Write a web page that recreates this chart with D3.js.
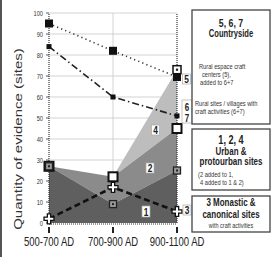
<!DOCTYPE html>
<html>
<head>
<meta charset="utf-8">
<script src="https://cdn.jsdelivr.net/npm/d3@7"></script>
<style>
  body { margin: 0; background: #fff; }
  svg { display: block; font-family: "Liberation Sans", Arial, sans-serif; }
</style>
</head>
<body>
<svg width="275" height="257"></svg>
<script>
var periods = ["500-700 AD", "700-900 AD", "900-1100 AD"];
var yTicks = [0, 10, 20, 30, 40, 50, 60, 70, 80, 90, 100];

// stacked urban areas (1, 1+2, 1+2+4)
var urban1 = [27, 9, 25];
var urban12 = [27, 22, 45];
var urban124 = [27, 22, 73];
// monastic sites (3)
var monastic3 = [2, 17, 5.5];
// countryside
var rural5 = [95, 82, 69.5];
var rural67 = [84, 60, 51];

var SX = 0.76; // the figure is squeezed sideways

var svg = d3.select("svg");

var x = d3.scalePoint().domain(periods).range([49, 177]);
var y = d3.scaleLinear().domain([0, 100]).range([223, 13]);

function txt(g, px, py, s, size, weight, anchor, fill) {
    return g.append("text")
        .attr("transform", "translate(" + px + "," + py + ") scale(" + SX + ",1)")
        .attr("text-anchor", anchor || "start")
        .style("font-size", size + "px")
        .style("font-weight", weight || "normal")
        .style("fill", fill || "#222")
        .text(s);
}

// left border
svg.append("rect").attr("x", 0).attr("y", 0).attr("width", 2).attr("height", 257).attr("fill", "#555");

// grid
svg.append("g").selectAll("line")
    .data(yTicks.slice(1))
    .enter().append("line")
    .attr("x1", x(periods[0])).attr("x2", x(periods[2]))
    .attr("y1", function(d) { return y(d); })
    .attr("y2", function(d) { return y(d); })
    .attr("stroke", "#c8c8c8").attr("stroke-width", 0.8);

svg.append("line")
    .attr("x1", x(periods[1])).attr("x2", x(periods[1]))
    .attr("y1", y(0)).attr("y2", y(100))
    .attr("stroke", "#c8c8c8").attr("stroke-width", 0.8);

// areas
function band(lo, hi) {
    return d3.area()
        .x(function(d, i) { return x(periods[i]); })
        .y0(function(d, i) { return y(lo ? lo[i] : 0); })
        .y1(function(d, i) { return y(hi[i]); })(hi);
}
svg.append("path").attr("d", band(urban12, urban124)).attr("fill", "#bdbdbd");
svg.append("path").attr("d", band(urban1, urban12)).attr("fill", "#8b8b8b");
svg.append("path").attr("d", band(null, urban1)).attr("fill", "#5f5f5f");

// dotted frame lines
[periods[0], periods[2]].forEach(function(p) {
    svg.append("line")
        .attr("x1", x(p)).attr("x2", x(p))
        .attr("y1", y(0)).attr("y2", y(100))
        .attr("stroke", "#333").attr("stroke-width", 1.2)
        .attr("stroke-dasharray", "1,1");
});
svg.append("line")
    .attr("x1", x(periods[0])).attr("x2", x(periods[2]))
    .attr("y1", y(0) + 1).attr("y2", y(0) + 1)
    .attr("stroke", "#333").attr("stroke-width", 1.2)
    .attr("stroke-dasharray", "1,1");

// y axis ticks + labels
var ya = svg.append("g");
yTicks.forEach(function(v) {
    ya.append("line")
        .attr("x1", x(periods[0]) - 3).attr("x2", x(periods[0]))
        .attr("y1", y(v)).attr("y2", y(v))
        .attr("stroke", "#333").attr("stroke-width", 0.8);
    txt(ya, 43, y(v) + 2.6, v, 7.5, "normal", "end", "#333");
});

// x axis ticks + labels
periods.forEach(function(p) {
    svg.append("line")
        .attr("x1", x(p)).attr("x2", x(p))
        .attr("y1", 227).attr("y2", 233)
        .attr("stroke", "#222").attr("stroke-width", 2);
    txt(svg, x(p), 246, p, 12.5, "normal", "middle", "#222");
});

// y title
svg.append("text")
    .attr("transform", "translate(22,139) scale(" + SX + ",1) rotate(-90)")
    .attr("text-anchor", "middle")
    .style("font-size", "15px")
    .style("fill", "#333")
    .text("Quantity of evidence (sites)");

// lines
var line = d3.line().x(function(d, i) { return x(periods[i]); }).y(function(d) { return y(d); });

svg.append("path").attr("d", line(rural5)).attr("fill", "none")
    .attr("stroke", "#333").attr("stroke-width", 1.6).attr("stroke-dasharray", "1.2,3.2");
svg.append("path").attr("d", line(rural67)).attr("fill", "none")
    .attr("stroke", "#222").attr("stroke-width", 1.6).attr("stroke-dasharray", "7,3,1.5,3");
svg.append("path").attr("d", line(monastic3)).attr("fill", "none")
    .attr("stroke", "#111").attr("stroke-width", 2.6).attr("stroke-dasharray", "6,3.5");

// markers
function squares(data, size, fill, stroke, sw, dot) {
    var g = svg.append("g");
    data.forEach(function(v, i) {
        g.append("rect")
            .attr("x", x(periods[i]) - size / 2).attr("y", y(v) - size / 2)
            .attr("width", size).attr("height", size)
            .attr("fill", fill).attr("stroke", stroke).attr("stroke-width", sw);
        if (dot) {
            g.append("rect")
                .attr("x", x(periods[i]) - dot / 2).attr("y", y(v) - dot / 2)
                .attr("width", dot).attr("height", dot)
                .attr("fill", "#222");
        }
    });
}
squares(urban124, 8, "#fff", "#111", 1.5, 2.2);
squares(urban12, 9, "#fff", "#111", 2, 0);
squares(urban1, 7, "#9a9a9a", "#222", 1.3, 2);
squares(rural5, 8, "#111", "#111", 0, 0);
squares(rural67, 5, "#111", "#111", 0, 0);

svg.append("g").selectAll("path")
    .data(monastic3)
    .enter().append("path")
    .attr("d", d3.symbol().type(d3.symbolCross).size(55))
    .attr("transform", function(d, i) { return "translate(" + x(periods[i]) + "," + y(d) + ")"; })
    .attr("fill", "#fff").attr("stroke", "#111").attr("stroke-width", 1.3);

// number tags
function tag(px, py, w, h, s) {
    svg.append("rect").attr("x", px).attr("y", py).attr("width", w).attr("height", h)
        .attr("fill", "#fff").attr("stroke", "#aaa").attr("stroke-width", 0.7);
    txt(svg, px + w / 2, py + h / 2 + 4, s, 11, "bold", "middle", "#222");
}
tag(182.5, 74, 8, 10, "5");
svg.append("rect").attr("x", 182).attr("y", 100).attr("width", 10).attr("height", 23)
    .attr("fill", "#fff").attr("stroke", "#aaa").attr("stroke-width", 0.7);
txt(svg, 187, 110.5, "6", 10.5, "bold", "middle", "#222");
txt(svg, 187, 121.5, "7", 10.5, "bold", "middle", "#222");
tag(151.5, 125, 8, 10, "4");
tag(146, 163, 8, 10, "2");
tag(142, 206, 8, 11, "1");
tag(183, 205, 8, 10, "3");

// legend boxes
function box(y0, y1) {
    svg.append("rect").attr("x", 192).attr("y", y0).attr("width", 78).attr("height", y1 - y0)
        .attr("fill", "#fff").attr("stroke", "#444").attr("stroke-width", 1.3);
}
var cx = 231;
box(10, 124);
txt(svg, cx, 27, "5, 6, 7", 11.5, "bold", "middle");
txt(svg, cx, 37, "Countryside", 10, "bold", "middle");
txt(svg, 199, 69, "Rural espace craft", 7.5, "normal", "start", "#333");
txt(svg, 202, 77, "centers (5),", 7.5, "normal", "start", "#333");
txt(svg, 200, 85, "added to 6+7", 7.5, "normal", "start", "#333");
txt(svg, 195, 106, "Rural sites / villages with", 7.5, "normal", "start", "#333");
txt(svg, 195, 114, "craft activities (6+7)", 7.5, "normal", "start", "#333");

box(129, 190);
txt(svg, cx, 144, "1, 2, 4", 12, "bold", "middle");
txt(svg, cx, 155, "Urban &", 10.5, "bold", "middle");
txt(svg, cx, 165, "protourban sites", 10.5, "bold", "middle");
txt(svg, 198, 177, "(2 added to 1,", 7.5, "normal", "start", "#333");
txt(svg, 200, 184.5, "4 added to 1 & 2)", 7.5, "normal", "start", "#333");

box(196, 232);
txt(svg, cx, 206, "3 Monastic &", 10.5, "bold", "middle");
txt(svg, cx, 217.5, "canonical sites", 10.5, "bold", "middle");
txt(svg, cx, 228, "with craft activities", 7.2, "normal", "middle", "#333");
</script>
</body>
</html>
